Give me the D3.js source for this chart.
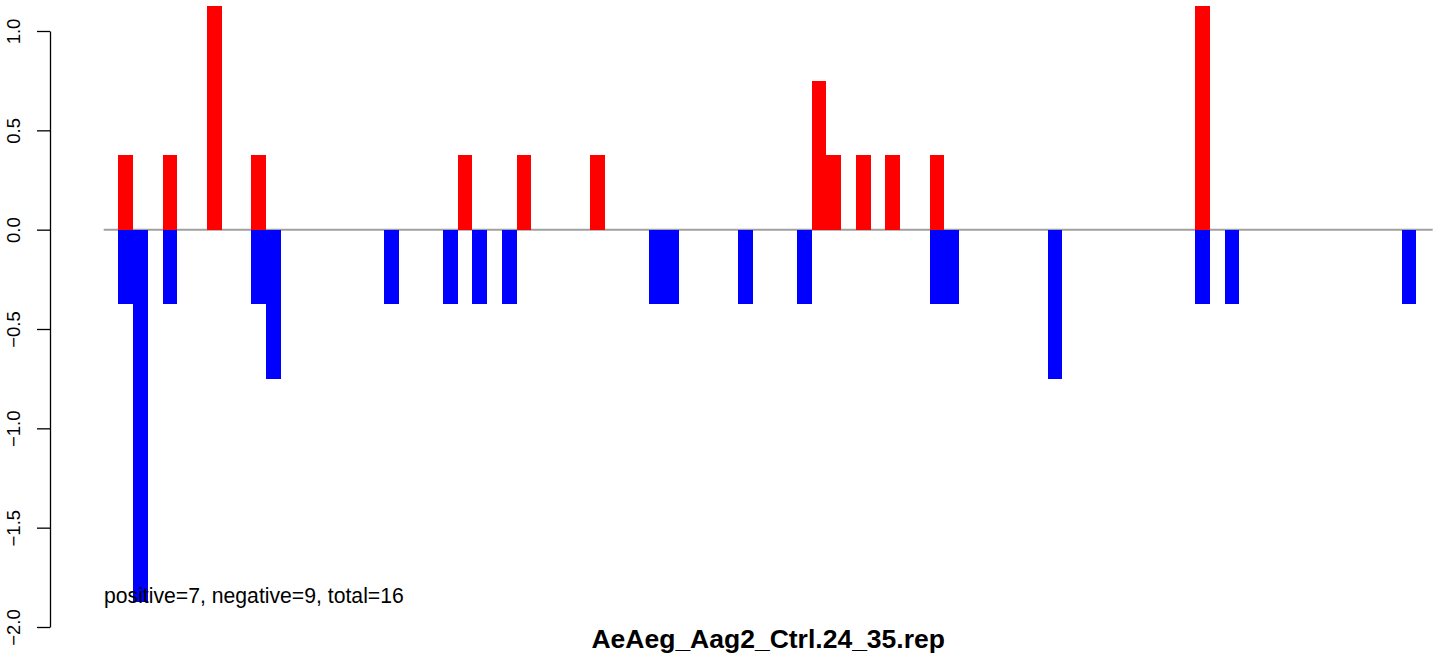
<!DOCTYPE html>
<html>
<head>
<meta charset="utf-8">
<script src="https://cdn.jsdelivr.net/npm/d3@7"></script>
<style>
  html, body { margin: 0; padding: 0; background: #ffffff; }
  svg { display: block; font-family: "Liberation Sans", Arial, Helvetica, sans-serif; }
</style>
</head>
<body>
<svg id="chart" width="1444" height="656"></svg>
<script>
// ---- data (bin index along the x axis, value) ----
const posBins   = [0, 3, 6, 9, 23, 27, 32, 47, 48, 50, 52, 55, 73];
const posValues = [0.375, 0.375, 1.125, 0.375, 0.375, 0.375, 0.375, 0.75, 0.375, 0.375, 0.375, 0.375, 1.125];
const negBins   = [0, 1, 3, 9, 10, 18, 22, 24, 26, 36, 37, 42, 46, 55, 56, 63, 73, 75, 87];
const negValues = [-0.375, -1.875, -0.375, -0.375, -0.75, -0.375, -0.375, -0.375, -0.375, -0.375, -0.375, -0.375, -0.375, -0.375, -0.375, -0.75, -0.375, -0.375, -0.375];
const yTicks    = [-2.0, -1.5, -1.0, -0.5, 0.0, 0.5, 1.0];
const titleText = "AeAeg_Aag2_Ctrl.24_35.rep";
const noteText  = "positive=7, negative=9, total=16";

const svg = d3.select("#chart");

const x = d3.scaleLinear().domain([-1, 89.1]).range([103.7, 1432.7]);
const y = d3.scaleLinear().domain([-2, 1]).range([627, 31]);

// zero line
svg.append("line")
  .attr("x1", x.range()[0]).attr("x2", x.range()[1])
  .attr("y1", y(0)).attr("y2", y(0))
  .attr("stroke", "#a0a0a0").attr("stroke-width", 2);

const pos = posBins.map((b, i) => ({ b, v: posValues[i] }));
const neg = negBins.map((b, i) => ({ b, v: negValues[i] }));

svg.append("g").selectAll("rect").data(pos).join("rect")
  .attr("x", d => x(d.b))
  .attr("width", d => x(d.b + 1) - x(d.b))
  .attr("y", d => y(d.v))
  .attr("height", d => y(0) - y(d.v))
  .attr("fill", "#ff0000")
  .attr("shape-rendering", "crispEdges");

svg.append("g").selectAll("rect").data(neg).join("rect")
  .attr("x", d => x(d.b))
  .attr("width", d => x(d.b + 1) - x(d.b))
  .attr("y", y(0))
  .attr("height", d => y(d.v) - y(0))
  .attr("fill", "#0000ff")
  .attr("shape-rendering", "crispEdges");

// y axis
const fmt = v => d3.format(".1f")(v).replace("-", "\u2212");
const axis = d3.axisLeft(y).tickValues(yTicks).tickSize(13).tickSizeOuter(0).tickFormat(fmt);
const gAxis = svg.append("g").attr("transform", "translate(50,0)").call(axis);
gAxis.select(".domain").attr("stroke", "#000").attr("stroke-width", 1.3);
gAxis.selectAll(".tick line").attr("stroke", "#000").attr("stroke-width", 1.3);
gAxis.selectAll(".tick text")
  .attr("x", null).attr("dy", null)
  .attr("transform", "translate(-30,0) rotate(-90)")
  .attr("text-anchor", "middle")
  .attr("font-size", 18.5)
  .attr("font-family", "Liberation Sans, Arial, sans-serif")
  .attr("fill", "#000");

// note text
svg.append("text")
  .attr("x", 104).attr("y", 603)
  .attr("font-size", 21.2)
  .attr("fill", "#000")
  .text(noteText);

// title
svg.append("text")
  .attr("x", (x.range()[0] + x.range()[1]) / 2).attr("y", 648)
  .attr("text-anchor", "middle")
  .attr("font-size", 26.5)
  .attr("font-weight", "bold")
  .attr("fill", "#000")
  .text(titleText);
</script>
</body>
</html>
